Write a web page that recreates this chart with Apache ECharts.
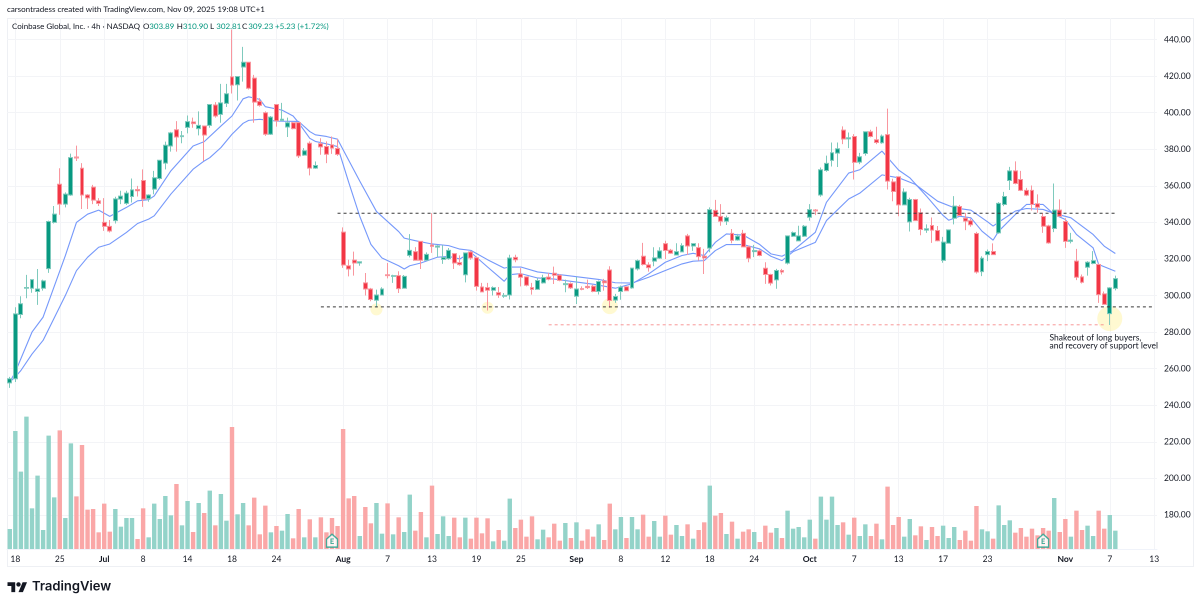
<!DOCTYPE html>
<html><head><meta charset="utf-8">
<style>html,body{margin:0;padding:0;background:#fff}#c{width:1200px;height:607px}</style>
<script src="https://cdn.jsdelivr.net/npm/echarts@6/dist/echarts.min.js"></script>
</head><body><div id="c"></div>
<script>
const opens=[252.2,254.5,289.6,304,304,302.2,304,314.7,340,360.9,350,355,375.8,369.6,355,359.3,351.8,340,337.8,341,
352.7,350.4,354.2,358,362.9,353,358.2,364,372.4,381.8,
390.7,386.9,392,394.9,391.3,392.7,393.1,404.2,399.1,405.1,
419.6,415.3,425,427.6,418.9,406.2,400,388.2,404.5,395.8,
392.2,394.5,394.6,376.8,383.3,369.7,383,381.5,382.4,380.4,
334.7,316.3,319.4,317.8,306.9,303.6,297.4,300.3,311.4,310.5,
310.9,304,322,324,329.6,319.3,327.6,326.5,319.8,320.2,
322.9,318,311.4,323.8,320.7,304.7,304.3,302.9,301.6,299.6,
300.3,320.9,311.8,310.2,304.3,303.4,306.9,310.1,312.2,311.1,
306,306.5,299.6,303.8,305,305.1,302.2,307.9,314,297.5,
302.2,304.8,304.2,314.6,321.5,316.8,318.8,320.4,328.4,324.8,
322.2,323.9,332.6,327.1,326.2,321.5,325.9,346.6,343.3,340.6,
334,330.4,334,326.6,324,324.4,314.9,311.5,308.6,313.7,
317.7,332.4,329.9,332.4,342.8,346.8,355,368.4,373.9,377.9,
390.5,385.7,387,373,377.7,389.6,385.2,383.6,388,362.2,
365,349.6,340.3,352.5,345.3,335.8,338.3,335.6,319.2,328.6,
342.3,348.7,342.3,340.9,333.9,313.1,322.4,324.1,334.3,349.8,
362.9,368.2,363.5,357.5,357.5,350.2,343.2,338.1,336.7,346.7,
340.5,329.6,318.8,310.2,315.5,317.5,317,300.9,290.1,303.89];
const closes=[254.5,290,295.5,304.4,308.7,303.6,308,340.5,344.5,350,355.5,375.4,375.2,355,353.4,352.2,350.4,337.8,335.3,352.9,
354.4,356,357.8,357.3,352.7,355,364.4,374,382.2,389,
386.7,387.4,395.1,394,393.1,387.8,404.5,398.2,405.4,410.4,
415.1,419.8,427.6,413.4,405.8,404,388.2,397.6,395.6,396.4,
394.5,391.3,376.4,379.2,369.7,371.1,381.3,377.3,380.6,377.2,
316.7,314.5,317.8,318.5,303.6,297.8,300.3,303.6,310.9,310.9,
303.8,310.5,324.7,319.3,319.3,322.5,326.9,327.1,320.9,324.7,
317.8,316.9,323.3,320.5,305,302,302.9,304.3,300.3,300.1,
320.5,319.6,310,305.6,303.4,308.2,309.8,308.9,311.1,308.3,
306.5,304.2,303.6,303.4,304.3,302.2,307.7,307,297.3,299.5,
304.6,302.6,315,319.1,317,315.3,320.6,324.4,324.6,323.1,
324,327.3,327.1,328.4,321.3,320.6,347,343.2,340.6,342.6,
330.2,332.4,326.6,320.4,324.6,321.9,311.5,306.8,313.7,312.9,
332.6,334.4,332.6,337.9,347,346.3,368.8,372.3,378.1,380.3,
385.6,386.3,372.8,375.9,389.6,387,383.7,387.2,362.6,356.9,
349.6,356.6,352.5,341,336.1,336.5,335.8,330,329.2,335.9,
348.9,343.8,340.7,338.7,312.9,320.4,324.1,322.4,350.4,354.2,
368.2,361.3,357.5,354.9,349.8,348.3,337.9,328.8,346.7,343.4,
329.6,330.3,310,307.3,318.2,319.1,300.5,295.2,304.2,309.23];
const highs=[255.5,293.6,299.6,311.3,309,314.5,308.7,341,349,369.6,356.4,377.6,382,372.4,355.5,360.5,353.3,353.3,341.3,354,
357.3,357.3,364,360,369,355.4,368.2,374.2,384.2,389.5,
395.4,390,398.5,397.3,400.7,393,404.7,405.8,415.8,415.8,
445.5,420,436,427.8,420.7,408,400.7,398.2,404.7,405.4,
397.3,394.9,395,380.6,384.3,373.3,386,384.3,387,385.7,
337.3,319.6,324,318.6,312.3,304.2,303.2,304.5,317.8,311.4,
313.3,311.2,333.6,326.5,329.7,323.6,345,327.6,327.6,326,
323,322,323.5,324.5,321.4,306.9,306.9,305,304.7,301.4,
322.3,322.3,315,310.5,306.9,309.6,311.4,312.3,315.8,311.8,
308.7,307.2,310.2,305,308.7,305.8,308.2,309.1,316,300.9,
305.5,305,315.2,319.7,328.8,318.2,326.4,326.4,330,325.5,
328.6,328.6,333.7,328.5,328.6,325.5,348.2,352.3,350,343.7,
336.4,333.7,335.9,327.3,327.7,325.1,318.2,311.9,314.6,314.6,
332.8,335,338.2,338.6,350,347.3,370,376.5,383.7,383.7,
392.5,389.2,388.3,378,389.8,390.7,392.3,388.1,402.2,363.9,
365,358.6,353.5,352.9,347.6,338.9,342.7,338,332.1,336.1,
354.4,349.6,345.2,342.1,334.8,321.5,325.2,328.5,351.1,356.7,
370.4,373.4,368.2,358.9,360.2,355.3,345.2,338.7,361.3,352.6,
342.3,334.3,325.5,311.5,318.8,324.3,317.5,302.2,304.6,310.9];
const lows=[249.5,252.7,287.6,298.5,301.5,294.9,302.7,312.4,339.4,344.2,348.2,354.5,373.6,347.3,347.3,350,349,335.4,334.5,339.4,
350,349.6,350.9,354.2,348.5,351.3,355.4,363.3,369,378.7,
378.7,383.3,388.7,391.8,387.6,373.6,391.8,397.3,394.5,403.1,
410.5,406.7,417,412.7,394.5,403.3,387.3,387.8,392.4,395.4,
386.7,390.9,375.2,376.4,365.7,369.3,377,372.4,377.5,376.4,
315.1,310.5,310.9,316.3,300,296.9,293.6,300,309.4,306.9,
301.4,303.8,320.9,319.1,314.5,319.1,323.3,321,317.3,319.6,
314.5,316.3,307.2,319.6,302.7,301.8,291.8,300,298.7,298.7,
297.8,318.2,305,305,300.5,303.2,306.5,308.3,306.3,307.8,
301.8,303.6,295.4,302.9,303.6,301.8,300.6,302.7,293.3,296,
297.7,302.4,303.7,313.7,316.4,313.1,316,320,320,322.8,
321.9,323.7,322.2,324.4,319.1,311.8,323.7,343,338.2,338.6,
328.6,330,326.4,318.2,321,321.5,306.4,305.5,303.7,311.5,
317,332,329.7,332,341,344,354,367.7,370.6,370.3,
382.8,380.6,363.5,371.9,376.5,386.5,382.8,383,358,351.6,
343.4,349.3,335,340.9,333,334.3,328.8,329.6,317.9,328.3,
338.9,343.4,335.8,337.6,312,310.6,318.8,322.1,333.8,348.9,
357.7,360.8,357.1,354.4,346.5,345.3,334.3,328.3,334.7,343.1,
326.1,328.5,308.4,306.6,310.9,317.1,296,294.9,283.9,302.81];
const volumes=[60,354,232,397,122,220,57,340,155,356,93,317,158,312,118,120,50,136,52,120,
67,93,93,30,122,35,136,90,159,101,
195,71,144,51,138,108,175,71,165,85,
366,104,138,71,154,44,130,50,69,55,
105,32,120,35,89,35,95,50,93,69,
360,152,159,39,126,77,138,46,137,44,
95,51,163,55,111,35,190,45,98,39,
94,35,94,31,94,47,92,23,57,25,
151,63,88,37,98,29,58,35,76,25,
78,33,80,25,59,37,74,27,136,59,
96,33,96,59,103,37,84,37,100,43,
72,39,74,31,57,80,190,100,108,45,
82,31,52,59,51,21,70,49,63,33,
115,61,66,35,88,31,157,88,157,72,
80,43,94,39,74,39,76,29,187,72,
96,37,90,41,68,27,66,39,70,33,
66,27,55,25,129,59,53,31,131,72,
86,49,63,37,61,41,63,55,153,51,
90,37,115,57,70,39,115,61,102,55];
const fastLine=[[0,252.7],[1,258.2],[4,280],[6,288.2],[10,321.8],[12,340],[14,344.5],[16,346.7],[18,343.3],[21,348.2],[23,351.8],[25,352.4],[26,354.5],[29,368.2],[33,381.8],[35,384.2],[38,392.7],[40,398.2],[42,407.6],[43,408.7],[45,407.3],[46,403.3],[49,401.4],[51,398.2],[52,394.5],[54,386],[55,384.3],[57,383],[59,381.5],[61,362],[63,343.3],[65,328],[67,320.5],[70,316.3],[71,314.5],[72,316.3],[74,317.8],[77,321],[79,321.4],[81,320],[83,323.6],[86,315.6],[89,307.8],[90,311.4],[92,312],[95,309.6],[98,309],[101,307.8],[105,306.2],[109,304],[112,306.4],[115,311.8],[118,318.2],[121,321.9],[123,323.1],[125,321.9],[127,329.1],[129,333.7],[132,333.1],[135,327.9],[137,322.8],[139,321.5],[141,324.6],[145,334.6],[147,351],[151,367],[153,368.8],[157,379],[160,368.6],[162,364.4],[165,354.4],[168,343.8],[169,341.2],[171,343.4],[173,342.5],[175,335.2],[177,330.3],[178,335.2],[181,344.3],[183,349.8],[186,349.8],[188,344.3],[190,341.6],[192,333.4],[195,326.1],[196,317],[199,313.3]];
const slowLine=[[0,252.7],[1,255.5],[2,259],[4,268],[6,275.5],[10,300],[12,313.6],[14,320.9],[16,326.4],[18,328.2],[21,334.5],[23,339.4],[25,341.8],[26,343.6],[29,355.5],[33,369.1],[35,373.6],[36,375.4],[38,380.9],[40,388.2],[42,394.2],[43,395.8],[45,396.4],[48,395.4],[52,395.2],[54,389.7],[55,387.9],[57,387],[59,385.5],[63,362.6],[66,346],[70,335],[71,331.4],[73,330],[76,328.2],[79,327.3],[81,325.4],[83,324.7],[86,319.6],[89,315],[90,315.6],[92,315.6],[95,312.9],[98,311.8],[102,310.3],[106,308.8],[109,307],[112,306.8],[115,310],[118,313.7],[121,317.3],[123,318.8],[125,319.1],[127,324.6],[129,327.9],[132,327.9],[135,325.5],[137,321.5],[139,319.1],[141,324],[145,329.1],[147,341],[151,352.8],[153,356],[157,366],[160,364.4],[163,360.8],[167,351.6],[170,348],[173,346.7],[176,340.3],[177,338],[178,340.1],[181,346.2],[183,347.6],[186,347.1],[188,344.9],[191,342.5],[195,333.4],[197,327],[199,323]];
const resistanceLine=[[59,345],[199,345]];
const supportLine=[[56,293.8],[206,293.8]];
const shakeoutLine=[[97,284],[197,284]];
const highlightSpots=[[66,292.4],[86,293.3],[108,294.2],[198,287.4]];
const highlightSizes=[12,12,16,25];
const earningsBars=[58,186];
const tickBars=[1,9,17,24,32,40,48,60,68,76,84,92,102,110,118,126,134,144,152,160,168,176,190,198,206];
const tickLabels=['18','25','Jul','8','14','18','24','Aug','7','13','19','25','Sep','8','12','18','24','Oct','7','13','17','23','Nov','7','13'];
const monthLabels=['Jul','Aug','Sep','Oct','Nov'];
const legendLetters=['O','H','L','C'];
const legendValues=['303.89','310.90','302.81','309.23'];
const legendX=[143,176.7,210,242];
const barSlots=207;

const categories=Array.from({length:barSlots},(_,i)=>{const k=tickBars.indexOf(i);return k>=0?tickLabels[k]:'';});
const up='#089981',down='#F23645';
const chart=echarts.init(document.getElementById('c'),null,{renderer:'canvas',devicePixelRatio:2});
const FONT='Lato,sans-serif';
const isTick=i=>tickBars.includes(i);
const txt=(x,y,text,font,fill)=>({type:'text',x,y,z:100,silent:true,style:{text,font,fill}});
const legendTexts=legendLetters.flatMap((l,i)=>[
  txt(legendX[i],22.5,l,'8px '+FONT,'#131722'),
  txt(legendX[i]+6.2,22.5,legendValues[i],'8px '+FONT,'#089981')]);
chart.setOption({
 animation:false,backgroundColor:'#fff',
 grid:[{left:7,width:1150,top:18,height:533.5},{left:7,width:1150,top:18,height:531}],
 xAxis:[
  {type:'category',gridIndex:0,data:categories,boundaryGap:true,show:false},
  {type:'category',gridIndex:1,data:categories,boundaryGap:true,
   axisLine:{show:true,lineStyle:{color:'#f0f3fa',width:1}},axisTick:{show:false},
   splitLine:{show:true,interval:(i)=>isTick(i),alignWithLabel:true,lineStyle:{color:'#f3f4f7',width:1}},
   axisLabel:{interval:(i)=>isTick(i),margin:6,fontSize:8.5,fontFamily:FONT,color:'#131722',
    formatter:v=>monthLabels.includes(v)?'{m|'+v+'}':v,
    rich:{m:{fontSize:8.5,fontWeight:700,fontFamily:FONT,color:'#131722'}}}}
 ],
 yAxis:[
  {type:'value',gridIndex:0,min:160,max:451.8,interval:20,position:'right',
   axisLine:{show:false},axisTick:{show:false},
   splitLine:{show:true,showMinLine:false,showMaxLine:false,lineStyle:{color:'#f3f4f7',width:1}},
   axisLabel:{margin:7,fontSize:8.5,fontFamily:FONT,color:'#131722',showMaxLabel:false,showMinLabel:false,formatter:v=>v.toFixed(2)}},
  {type:'value',gridIndex:1,min:0,max:1593,show:false,splitLine:{show:false}}
 ],
 series:[
  {type:'scatter',name:'Highlights',xAxisIndex:0,yAxisIndex:0,z:1,silent:true,
   data:highlightSpots,symbolSize:(v,p)=>highlightSizes[p.dataIndex],itemStyle:{color:'rgba(255,238,120,0.42)'}},
  {type:'bar',name:'Volume',xAxisIndex:1,yAxisIndex:1,z:2,barWidth:4.4,
   data:volumes.map((v,i)=>({value:v,itemStyle:{color:closes[i]>=opens[i]?'#93d3c9':'#faa7a7'}}))},
  {type:'line',name:'Slow',xAxisIndex:0,yAxisIndex:0,z:3,data:slowLine,showSymbol:false,symbol:'none',lineStyle:{color:'#7598fb',width:1.1}},
  {type:'line',name:'Fast',xAxisIndex:0,yAxisIndex:0,z:3,data:fastLine,showSymbol:false,symbol:'none',lineStyle:{color:'#7598fb',width:1.1}},
  {type:'candlestick',name:'COIN',xAxisIndex:0,yAxisIndex:0,z:4,barWidth:4.4,
   data:opens.map((o,i)=>[o,closes[i],lows[i],highs[i]]),
   itemStyle:{color:up,color0:down,borderColor:'#7fcabd',borderColor0:'#f9969e',borderWidth:1}},
  {type:'line',name:'Resistance',xAxisIndex:0,yAxisIndex:0,z:5,data:resistanceLine,showSymbol:false,symbol:'none',lineStyle:{color:'#3a3a3a',width:1,type:[3,3]}},
  {type:'line',name:'Support',xAxisIndex:0,yAxisIndex:0,z:5,data:supportLine,showSymbol:false,symbol:'none',lineStyle:{color:'#3a3a3a',width:1,type:[3,3]}},
  {type:'line',name:'Shakeout',xAxisIndex:0,yAxisIndex:0,z:5,data:shakeoutLine,showSymbol:false,symbol:'none',lineStyle:{color:'#f78a8a',width:0.8,type:[3,3]}},
  {type:'scatter',name:'Earnings',xAxisIndex:1,yAxisIndex:1,z:6,silent:true,
   data:earningsBars.map(i=>[i,25]),symbol:'path://M1,5 L6,0 L11,5 L11,13 L1,13 Z',symbolSize:[11,13],
   itemStyle:{color:'#fff',borderColor:'#1aa38d',borderWidth:1.4},
   label:{show:true,formatter:'E',position:'inside',color:'#089981',fontSize:7.5,fontWeight:700,fontFamily:FONT,offset:[0,1]}}
 ],
 graphic:[
  {type:'rect',silent:true,z:0,shape:{x:7.5,y:18.5,width:1186,height:548},style:{fill:'none',stroke:'#eef0f4',lineWidth:1}},
  txt(7,5.5,'carsontradess created with TradingView.com, Nov 09, 2025 19:08 UTC+1','8px '+FONT,'#131722'),
  txt(12,22.5,'Coinbase Global, Inc. · 4h · NASDAQ','8px '+FONT,'#131722'),
  ...legendTexts,
  txt(275,22.5,'+5.23 (+1.72%)','8px '+FONT,'#089981'),
  {type:'text',x:1049.5,y:334,z:100,silent:true,style:{text:'Shakeout of long buyers,\nand recovery of support level',font:'8.5px '+FONT,lineHeight:8,fill:'#131722'}},
  {type:'polygon',silent:true,x:7.5,y:580,scaleX:0.55,scaleY:0.55,shape:{points:[[14,22],[7,22],[7,11],[0,11],[0,4],[14,4]]},style:{fill:'#131722'}},
  {type:'polygon',silent:true,x:7.5,y:580,scaleX:0.55,scaleY:0.55,shape:{points:[[28,22],[20,22],[27.5,4],[35.5,4]]},style:{fill:'#131722'}},
  {type:'circle',silent:true,shape:{cx:18.5,cy:584.4,r:2.2},style:{fill:'#131722'}},
  txt(32,580,'TradingView','600 13px Inter,sans-serif','#131722')
 ]
});
</script></body></html>
